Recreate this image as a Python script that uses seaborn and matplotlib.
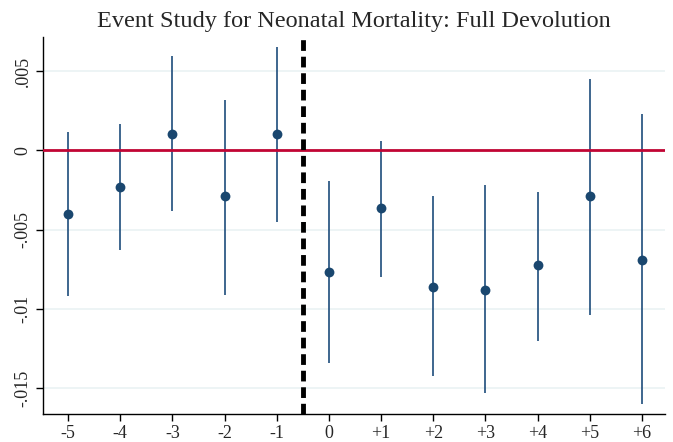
import matplotlib
matplotlib.use("Agg")
import matplotlib.pyplot as plt
import seaborn as sns
import pandas as pd

periods = [-5, -4, -3, -2, -1, 0, 1, 2, 3, 4, 5, 6]
tick_labels = ["-5", "-4", "-3", "-2", "-1", "0", "+1", "+2", "+3", "+4", "+5", "+6"]
coef = [-0.00401, -0.0023, 0.00103, -0.0029, 0.00103, -0.0077, -0.0036, -0.0086, -0.0088, -0.0072, -0.0029, -0.0069]
ci_high = [0.00116, 0.0017, 0.00596, 0.0032, 0.0065, -0.0019, 0.0006, -0.0029, -0.0022, -0.0026, 0.0045, 0.0023]
ci_low = [-0.0092, -0.0063, -0.0038, -0.0091, -0.0045, -0.0134, -0.0080, -0.0142, -0.0153, -0.0120, -0.0104, -0.0160]
yticks = [0.005, 0, -0.005, -0.01, -0.015]
ytick_labels = [".005", "0", "-.005", "-.01", "-.015"]

df = pd.DataFrame({"period": periods, "coef": coef, "lo": ci_low, "hi": ci_high})

sns.set_theme(style="white")
plt.rcParams['font.family'] = ['Liberation Serif', 'DejaVu Serif']

fig = plt.figure(figsize=(6.73, 4.42), dpi=100)
ax = fig.add_axes([0.0634, 0.0633, 0.9246, 0.8527])

for y in yticks:
    ax.axhline(y, color="#eaf2f3", lw=1.2, zorder=0)

ax.vlines(df["period"], df["lo"], df["hi"], color="#2f5a86", lw=1.3, zorder=2)
ax.axhline(0, color="#c10534", lw=2, zorder=3)
ax.axvline(-0.5, color="black", lw=3.5, linestyle=(0, (2.2, 1.2)), zorder=4)
sns.scatterplot(data=df, x="period", y="coef", ax=ax, color="#1a476f", s=50,
                edgecolor="#1a476f", linewidth=0, zorder=5)

ax.set_xlim(-5.485, 6.44)
ax.set_ylim(-0.01663, 0.00715)
ax.set_xticks(periods)
ax.set_xticklabels(tick_labels, fontsize=13)
ax.set_yticks(yticks)
ax.set_yticklabels(ytick_labels, fontsize=13, rotation=90, va="center")
ax.set_xlabel("")
ax.set_ylabel("")
for s in ["top", "right"]:
    ax.spines[s].set_visible(False)
for s in ["left", "bottom"]:
    ax.spines[s].set_color("black")
    ax.spines[s].set_linewidth(1)
ax.tick_params(axis="both", direction="out", length=5, width=1, color="black", pad=3)
ax.tick_params(axis="x", bottom=True)
ax.tick_params(axis="y", left=True)
ax.set_title("Event Study for Neonatal Mortality: Full Devolution", fontsize=17.5, pad=7)

fig.savefig("out.png", dpi=100)
